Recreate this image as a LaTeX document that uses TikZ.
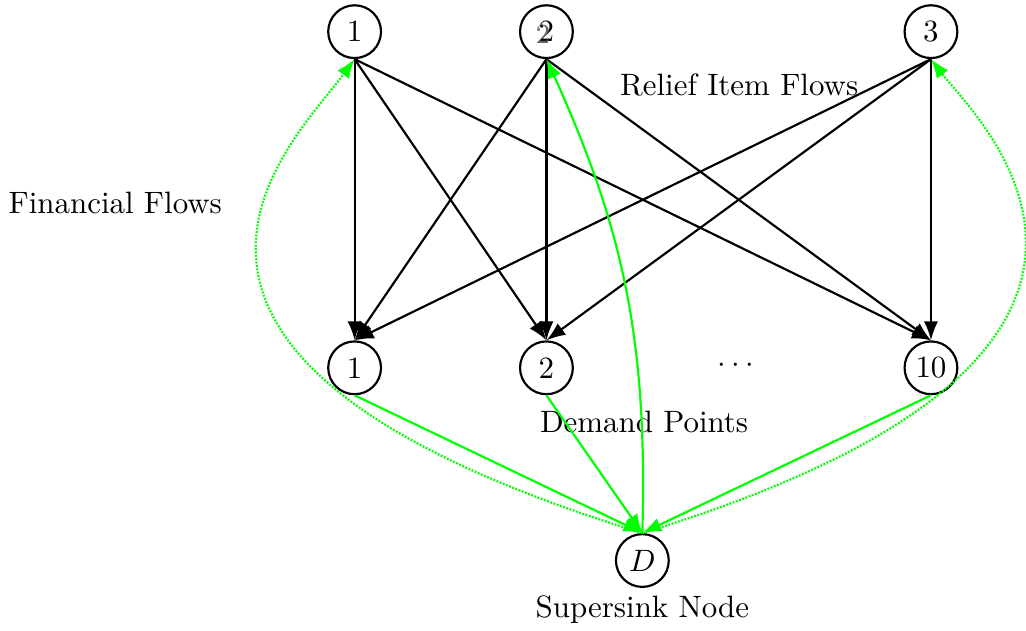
\documentclass[tikz,border=0pt]{standalone}
\usetikzlibrary{arrows.meta,positioning,calc}
\definecolor{flowgreen}{RGB}{0,255,0}

\begin{document}
\begin{tikzpicture}[>=Latex, line width=0.7pt]
\tikzset{
  pt/.style={circle, draw, minimum size=0.6cm, inner sep=1pt},
  relief/.style={->, black},
  money/.style={->, flowgreen},
  backflow/.style={money, dash pattern=on 0.6pt off 0.5pt},
}
\useasboundingbox (0,0) rectangle (11.66,-7.16);
% supply points
\node[pt] (s1) at (4.03,-0.36) {1};
\node[pt] (s2) at (6.21,-0.36) {2};
\node[font=\small, black!60] (s2b) at ($(s2)+(-0.04,-0.03)$) {2};
\node[pt] (s3) at (10.58,-0.36) {3};
% demand points
\node[pt] (d1) at (4.03,-4.18) {1};
\node[pt] (d2) at (6.21,-4.18) {2};
\node[pt] (d10) at (10.58,-4.18) {10};
\node (dots) at (8.36,-4.16) {$\cdots$};
\node[pt] (sink) at (7.30,-6.37) {$D$};
% labels
\node (lrelief) at (8.40,-0.96) {Relief Item Flows};
\node (lfin) at (1.31,-2.31) {Financial Flows};
\node (ldem) at (7.32,-4.79) {Demand Points};
\node (lsink) at (7.30,-6.93) {Supersink Node};
% flows
\foreach \s in {s1,s2,s3}
  \foreach \d in {d1,d2,d10}
    \draw[relief] (\s.south) -- (\d.north);
\foreach \d in {d1,d2,d10}
  \draw[money] (\d.south) -- (sink.north);
\draw[backflow] (sink.north) .. controls (0.67,-4.03) and (3.36,-1.59) .. (s1.south);
\draw[money] (sink.north) to[bend right=13] (s2.south);
\draw[backflow] (sink.north) .. controls (14.0,-4.01) and (11.08,-1.33) .. (s3.south);
\end{tikzpicture}
\end{document}
